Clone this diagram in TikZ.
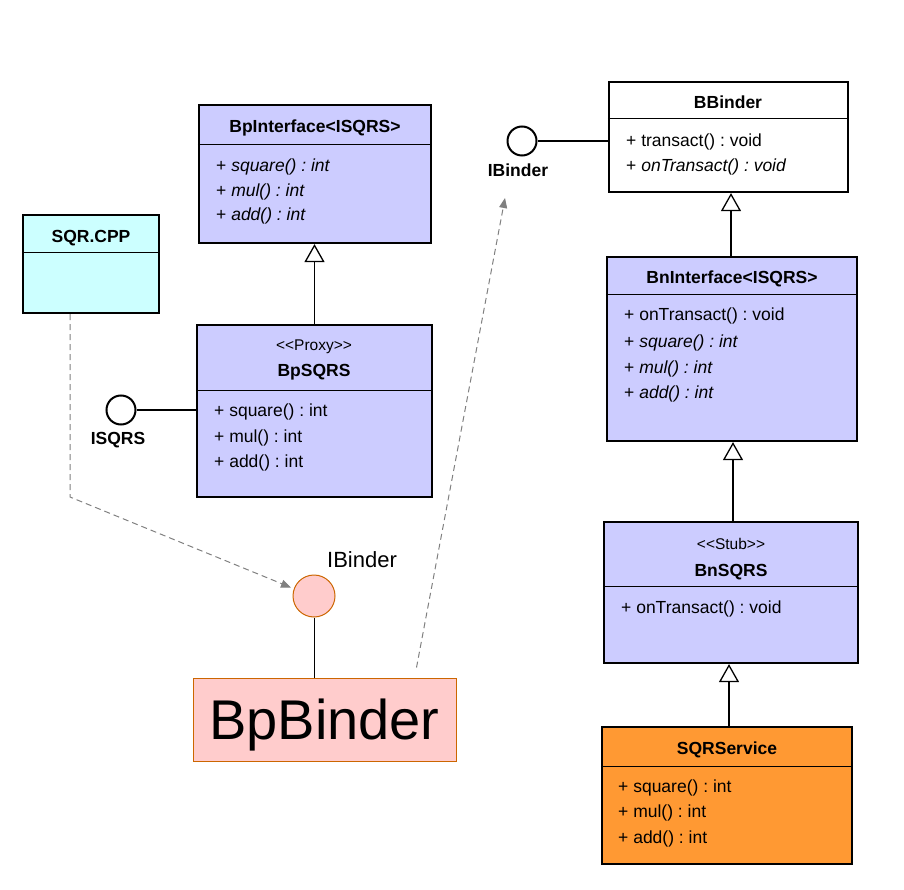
\documentclass[tikz,border=0pt]{standalone}
\usepackage{fontspec}
\setmainfont{Liberation Sans}
\usetikzlibrary{arrows.meta, calc, positioning}
\definecolor{umlblue}{RGB}{204,204,255}
\definecolor{umlcyan}{RGB}{204,255,255}
\definecolor{umlorange}{RGB}{255,153,51}
\definecolor{binderpink}{RGB}{255,204,204}
\definecolor{binderedge}{RGB}{204,102,0}
\definecolor{depgray}{RGB}{128,128,128}
\frenchspacing

\begin{document}
\begin{tikzpicture}[x=1pt, y=-1pt,
    classbox/.style={draw, line width=2.2pt, inner sep=0pt},
    title/.style={font=\fontsize{17.5}{20}\selectfont\bfseries, inner sep=0pt, text height=12.6pt, text depth=0pt},
    stereo/.style={font=\fontsize{15.5}{18}\selectfont, inner sep=0pt, text height=11pt, text depth=0pt},
    member/.style={font=\fontsize{17.5}{20}\selectfont, anchor=west, inner sep=0pt, text height=12.6pt, text depth=0pt},
    divider/.style={line width=1pt},
    inherit/.style={line width=1.3pt, -{Triangle[length=18pt, width=20pt, fill=white]}},
    lollipop/.style={draw, circle, line width=2pt, inner sep=0pt, minimum size=29pt, fill=white},
    dep/.style={depgray, line width=1pt, dash pattern=on 6pt off 4pt, -{Triangle[length=10pt, width=8pt]}}]
    \useasboundingbox (0,0) rectangle (904,890);

    % BpInterface<ISQRS>
    \node[classbox, fill=umlblue, minimum width=232pt, minimum height=138pt] (bpi) at (315,174) {};
    \draw[divider] (bpi.west |- 0,145) -- (bpi.east |- 0,145);
    \node[title] (bpi-title) at (315,126) {BpInterface<ISQRS>};
    \node[member] (bpi-m1) at (216,165) {+ \textit{square() : int}};
    \node[member] (bpi-m2) at (216,190) {+ \textit{mul() : int}};
    \node[member] (bpi-m3) at (216,214) {+ \textit{add() : int}};

    % SQR.CPP
    \node[classbox, fill=umlcyan, minimum width=136pt, minimum height=98pt] (sqr) at (91,264) {};
    \draw[divider] (sqr.west |- 0,253) -- (sqr.east |- 0,253);
    \node[title] (sqr-title) at (91,236) {SQR.CPP};

    % BpSQRS (proxy)
    \node[classbox, fill=umlblue, minimum width=235pt, minimum height=172pt] (bps) at (314.5,411) {};
    \draw[divider] (bps.west |- 0,390) -- (bps.east |- 0,390);
    \node[stereo] (bps-stereo) at (314,345) {<\kern0pt<Proxy>\kern0pt>};
    \node[title] (bps-title) at (314,370) {BpSQRS};
    \node[member] (bps-m1) at (214,410) {+ square() : int};
    \node[member] (bps-m2) at (214,436) {+ mul() : int};
    \node[member] (bps-m3) at (214,461) {+ add() : int};

    % ISQRS interface
    \node[lollipop] (isq) at (121,410) {};
    \node[title] (isq-label) at (118,438) {ISQRS};
    \draw[line width=1.3pt] (isq) -- (bps.west |- isq);
    \draw[inherit] (bps.north) -- (bps.north |- bpi.south);

    % BBinder
    \node[classbox, fill=white, minimum width=239pt, minimum height=110pt] (bb) at (728.5,137) {};
    \draw[divider] (bb.west |- 0,119) -- (bb.east |- 0,119);
    \node[title] (bb-title) at (728,102) {BBinder};
    \node[member] (bb-m1) at (626,140) {+ transact() : void};
    \node[member] (bb-m2) at (626,165) {+ \textit{onTransact() : void}};

    % IBinder interface
    \node[lollipop] (ibb) at (522,141) {};
    \node[title] (ibb-label) at (518,170) {IBinder};
    \draw[line width=1.3pt] (ibb) -- (bb.west |- ibb);

    % BnInterface<ISQRS>
    \node[classbox, fill=umlblue, minimum width=250pt, minimum height=184pt] (bni) at (732,349) {};
    \draw[divider] (bni.west |- 0,295) -- (bni.east |- 0,295);
    \node[title] (bni-title) at (732,277) {BnInterface<ISQRS>};
    \node[member] (bni-m1) at (624,314) {+ onTransact() : void};
    \node[member] (bni-m2) at (624,341) {+ \textit{square() : int}};
    \node[member] (bni-m3) at (624,367) {+ \textit{mul() : int}};
    \node[member] (bni-m4) at (624,392) {+ \textit{add() : int}};
    \draw[inherit] (bni.north -| 731,0) -- (bb.south -| 731,0);

    % BnSQRS (stub)
    \node[classbox, fill=umlblue, minimum width=254pt, minimum height=141pt] (bns) at (731,592.5) {};
    \draw[divider] (bns.west |- 0,586) -- (bns.east |- 0,586);
    \node[stereo] (bns-stereo) at (731,544) {<\kern0pt<Stub>\kern0pt>};
    \node[title] (bns-title) at (731,570) {BnSQRS};
    \node[member] (bns-m1) at (621,607) {+ onTransact() : void};
    \draw[inherit] (bns.north -| 733,0) -- (bni.south -| 733,0);

    % SQRService
    \node[classbox, fill=umlorange, minimum width=250pt, minimum height=137pt] (svc) at (727,795.5) {};
    \draw[divider] (svc.west |- 0,766) -- (svc.east |- 0,766);
    \node[title] (svc-title) at (727,748) {SQRService};
    \node[member] (svc-m1) at (618,786) {+ square() : int};
    \node[member] (svc-m2) at (618,811) {+ mul() : int};
    \node[member] (svc-m3) at (618,837) {+ add() : int};
    \draw[inherit] (svc.north -| 729,0) -- (bns.south -| 729,0);

    % BpBinder and its IBinder
    \node[draw=binderedge, fill=binderpink, line width=1pt, minimum width=263pt, minimum height=83pt, text depth=0pt, font=\fontsize{56}{60}\selectfont] (bpb) at (324.5,719.5) {BpBinder};
    \node[draw=binderedge, fill=binderpink, circle, line width=1pt, inner sep=0pt, minimum size=42pt] (ibp) at (314,596) {};
    \node[font=\fontsize{22}{26}\selectfont, inner sep=0pt] (ibp-label) at (362,560) {IBinder};
    \draw[line width=1pt] (ibp.south) -- (ibp.south |- bpb.north);

    % Dependencies
    \coordinate (bend) at (70,497);
    \coordinate (ibtip) at (505,198);
    \draw[dep, shorten >=3pt] (sqr.south -| bend) -- (bend) -- (ibp.160);
    \draw[dep] ($(bpb.north east)+(-40,-10)$) -- (ibtip);
\end{tikzpicture}
\end{document}
